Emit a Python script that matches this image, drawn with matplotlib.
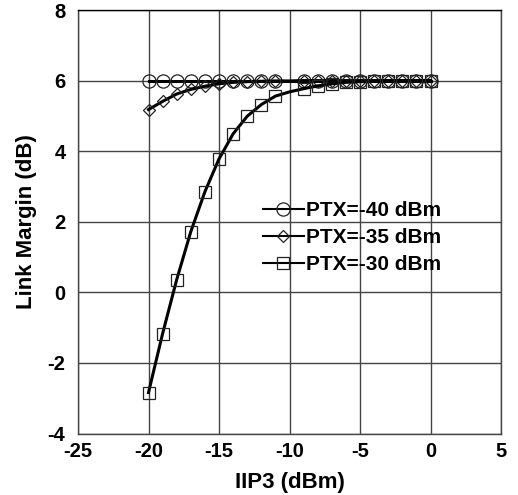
import matplotlib
matplotlib.use("Agg")
import matplotlib.pyplot as plt

plt.rcParams['font.family'] = ['Liberation Sans', 'DejaVu Sans']
plt.rcParams['font.weight'] = 'bold'
plt.rcParams['axes.unicode_minus'] = False

iip3 = [-20, -19, -18, -17, -16, -15, -14, -13, -12, -11, -10,
        -9, -8, -7, -6, -5, -4, -3, -2, -1, 0]
lm_40 = [6.0] * 21
lm_35 = [5.18, 5.41, 5.62, 5.75, 5.84, 5.91, 5.95, 5.97, 5.98, 5.99, 5.99,
         6.0, 6.0, 6.0, 6.0, 6.0, 6.0, 6.0, 6.0, 6.0, 6.0]
lm_30 = [-2.84, -1.17, 0.36, 1.72, 2.85, 3.78, 4.49, 4.99, 5.32, 5.56, 5.68,
         5.77, 5.85, 5.91, 5.95, 5.97, 5.98, 5.99, 6.0, 6.0, 6.0]
labels = ['PTX=-40 dBm', 'PTX=-35 dBm', 'PTX=-30 dBm']
markers = ['o', 'D', 's']
msizes = [9.5, 6.5, 9]

fig = plt.figure(figsize=(5.18, 4.95), dpi=100)
ax = fig.add_axes([78/518, 1 - 433.5/495, (501-78)/518, (433.5-10)/495])

mark_idx = [i for i in range(len(iip3)) if iip3[i] != -10]
for y, lab, m, ms in zip([lm_40, lm_35, lm_30], labels, markers, msizes):
    ax.plot(iip3, y, color='black', lw=2.2, marker=m, ms=ms, mfc='none',
            mec='#222222', mew=0.9, markevery=mark_idx, label=lab)

ax.set_xlim(-25, 5)
ax.set_ylim(-4, 8)
ax.set_xticks(range(-25, 6, 5))
ax.set_yticks(range(-4, 9, 2))
ax.grid(True, color='#444444', lw=1.0)
ax.set_axisbelow(True)
ax.tick_params(length=0, labelsize=14.5)
ax.tick_params(axis='y', pad=9)
ax.tick_params(axis='x', pad=6)
for s in ax.spines.values():
    s.set_color('#444444')
    s.set_linewidth(1.0)
ax.spines['top'].set_color('black')
ax.set_xlabel('IIP3 (dBm)', fontsize=16, fontweight='bold', labelpad=8)
ax.set_ylabel('Link Margin (dB)', fontsize=16, fontweight='bold', labelpad=8)

leg = ax.legend(loc='upper left', bbox_to_anchor=(0.418, 0.568), frameon=False,
                fontsize=15, handlelength=1.95, handletextpad=0.1,
                labelspacing=0.38, borderaxespad=0)
for ln in leg.get_lines():
    ln.set_linewidth(1.5)

fig.savefig('out.png', dpi=100)
